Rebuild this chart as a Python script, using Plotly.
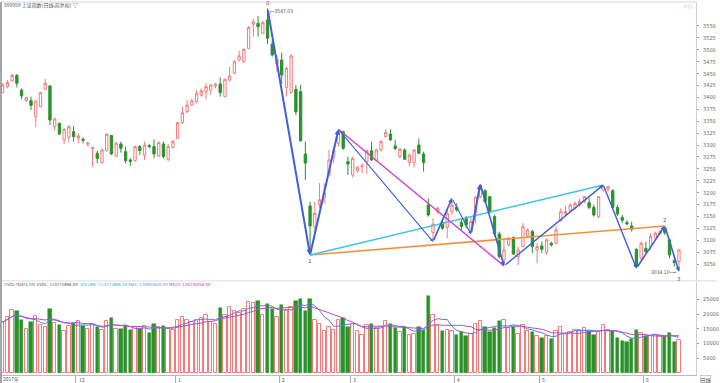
import plotly.graph_objects as go
import pandas as pd

# ---------------- data ----------------
month_idx = [0, 16, 37, 59, 74, 96, 114, 136]
month_lab = ["2017年", "12", "1", "2", "3", "4", "5", "6"]

opens = [3410, 3422.6, 3434.5, 3446.4, 3415.6, 3393, 3393, 3359.6, 3380.6, 3417,
         3424, 3338.6, 3345.6, 3310.6, 3316.2, 3328, 3314.8, 3312, 3301.5, 3292.4,
         3282.6, 3263, 3288.2, 3319.7, 3277, 3302.2, 3286, 3268.6, 3267.2, 3296.6,
         3279, 3298.7, 3296.6, 3277, 3302.2, 3270, 3295, 3314, 3347, 3370,
         3384, 3391, 3404.4, 3412, 3415.6, 3424, 3428.2, 3401.6, 3436.6, 3450.6,
         3478.6, 3475, 3503, 3554, 3555.6, 3534.6, 3562.6, 3512, 3470.2, 3478.6,
         3421, 3410, 3417, 3412, 3281, 3172, 3128.6, 3175, 3188.6, 3237,
         3275.6, 3303.6, 3328, 3265, 3237, 3246, 3254.6, 3265, 3288, 3267,
         3289.6, 3317.6, 3323, 3298, 3275.6, 3289.6, 3263, 3263, 3300, 3281,
         3174, 3116, 3160, 3137, 3127, 3160, 3169, 3137.6, 3146, 3118,
         3156.6, 3191.6, 3204, 3191.6, 3149.6, 3113, 3058.6, 3090, 3106, 3065.6,
         3086.6, 3109, 3118, 3079.6, 3088, 3074, 3093.6, 3093.6, 3141, 3155,
         3162, 3167, 3174, 3181, 3179, 3169, 3149.6, 3205.6, 3207, 3204,
         3169, 3148, 3137, 3130, 3081, 3062, 3083, 3086.6, 3104, 3113,
         3125, 3100.6, 3057, 3055]
highs = [3430, 3436.6, 3449, 3449, 3419, 3401.6, 3401.6, 3394.6, 3412, 3439.4,
         3426, 3358.2, 3347, 3335, 3342, 3340, 3324.6, 3316, 3307, 3296.6,
         3288, 3293, 3324.6, 3321, 3307, 3307, 3296.6, 3272, 3298.7, 3300,
         3307, 3302, 3312, 3307, 3307, 3302.2, 3310.6, 3349, 3380.6, 3394.6,
         3398, 3415.6, 3419, 3429.6, 3428, 3431, 3442, 3440, 3464.6, 3478.6,
         3498.2, 3503, 3550, 3566, 3571, 3561, 3587.03, 3520.6, 3489, 3494,
         3464.6, 3491.2, 3426, 3426, 3307, 3181, 3181, 3220, 3219.6, 3289.6,
         3293, 3333, 3330, 3275.6, 3275.6, 3256, 3261.6, 3291, 3307, 3293,
         3310.6, 3333, 3333, 3310.6, 3295, 3293, 3282.6, 3291, 3314, 3286,
         3188, 3146, 3170.6, 3146, 3167, 3188, 3177.6, 3144, 3151, 3149.6,
         3193, 3218, 3207, 3193, 3153, 3118, 3102, 3107.6, 3107.6, 3086.6,
         3135.6, 3125, 3121.6, 3093.6, 3097, 3104, 3097, 3128.6, 3167, 3172,
         3177.6, 3181, 3188, 3193, 3188, 3174, 3193, 3216, 3214, 3207,
         3174, 3153, 3142, 3139, 3083, 3097, 3097, 3114.6, 3118, 3121.6,
         3130, 3104, 3062, 3081]
lows = [3409, 3419, 3433, 3421, 3396, 3391, 3373.6, 3337.2, 3379.2, 3415.6,
        3342, 3330.2, 3321, 3302.2, 3305, 3307, 3303.6, 3303.6, 3296.6, 3254.6,
        3261.6, 3260.2, 3286, 3279, 3274.2, 3284, 3261.6, 3256, 3265, 3279,
        3268.6, 3293, 3272, 3274.2, 3272, 3265, 3292.4, 3312, 3344.2, 3366.6,
        3382, 3387.6, 3401.6, 3396, 3405, 3419, 3401.6, 3400, 3433, 3449,
        3475, 3473, 3501, 3527.6, 3527.6, 3533, 3512, 3485.6, 3454, 3428,
        3401.6, 3408.6, 3363, 3307, 3226.6, 3069, 3114.6, 3168, 3177.6, 3233.6,
        3261.6, 3296.6, 3289.6, 3237, 3232, 3242, 3240.6, 3239, 3267, 3265,
        3286, 3316, 3309, 3289.6, 3272, 3268.6, 3254.6, 3253, 3281, 3244,
        3149.6, 3097, 3155, 3121.6, 3104, 3153, 3160, 3121.6, 3125, 3113,
        3135.6, 3188, 3177.6, 3156.6, 3107.6, 3062, 3046, 3086.6, 3069, 3048,
        3085, 3104, 3072.6, 3051.6, 3072.6, 3069, 3086.6, 3092, 3139, 3151,
        3160, 3163.6, 3170.6, 3177.6, 3165, 3149.6, 3146, 3202, 3202, 3167,
        3151, 3135.6, 3132, 3118, 3041, 3058.6, 3072.6, 3079.6, 3102, 3111,
        3111, 3062, 3044.6, 3034.1]
closes = [3426, 3431, 3446.4, 3429.6, 3403, 3399, 3383.4, 3392.5, 3410, 3429.6,
          3352.6, 3354.7, 3323.2, 3333, 3338.6, 3317.6, 3319, 3310, 3303.6, 3294.5,
          3272, 3289.6, 3322.5, 3281.2, 3303.6, 3293, 3267.2, 3265.8, 3296.6, 3288.2,
          3299.4, 3297, 3281.2, 3305, 3275.6, 3296.6, 3307, 3347, 3368, 3384,
          3393, 3408.6, 3414, 3422.6, 3426, 3427.5, 3410, 3438, 3445, 3475,
          3487, 3501, 3547, 3559, 3548.6, 3557, 3524, 3489, 3480, 3447,
          3461, 3487, 3370, 3309, 3262, 3130, 3156.6, 3185, 3199, 3268.6,
          3288, 3328, 3293, 3260, 3272, 3253, 3256.7, 3288, 3268.6, 3289.6,
          3307, 3326.7, 3310.6, 3292.4, 3291, 3270, 3279, 3289.6, 3282.6, 3263,
          3153, 3134, 3167, 3125, 3156.6, 3174, 3163.6, 3128.6, 3132, 3139,
          3190, 3216, 3181, 3160, 3113, 3065.6, 3079.6, 3104, 3071, 3079.6,
          3128.6, 3121.6, 3086.6, 3086.6, 3081, 3100.6, 3090, 3121.6, 3160, 3160,
          3174, 3177.6, 3181, 3191.6, 3169, 3153, 3191.6, 3214, 3213, 3169,
          3155, 3142, 3134, 3123, 3044.6, 3093.6, 3076, 3107.6, 3114.6, 3118,
          3116, 3069, 3053, 3079.6]
# volume in units of 10,000
volumes = [17200, 18900, 21300, 20900, 18000, 14800, 17200, 19300, 16400, 15600,
           21700, 16800, 16400, 14400, 16000, 16800, 17500, 16000, 15000, 16500,
           15500, 14500, 17500, 18500, 15000, 14800, 15800, 14500, 15500, 14800,
           16000, 13500, 16500, 15500, 15800, 15000, 14500, 18000, 18900, 18000,
           17200, 18000, 18500, 19800, 17200, 16700, 22000, 19800, 22400, 21100,
           20200, 21600, 24200, 23800, 24500, 19800, 23300, 21600, 18900, 22900,
           21100, 22400, 24500, 25200, 21000, 25100, 18000, 16600, 14300, 15700,
           14700, 18000, 18500, 15700, 16600, 14300, 12800, 16200, 16600, 15200,
           15700, 17600, 16600, 15200, 13800, 15700, 12800, 13300, 15700, 14700,
           26000, 19500, 16200, 14300, 14700, 14300, 12800, 13800, 12400, 13300,
           16600, 17600, 15700, 13800, 15200, 17600, 18000, 15200, 15700, 13300,
           16200, 14300, 13800, 12400, 11900, 12400, 11400, 14300, 15700, 13300,
           13800, 14700, 14700, 15200, 14300, 12800, 13800, 16200, 14700, 14300,
           11900, 10900, 10500, 11400, 14500, 13500, 12500, 12500, 13000, 12500,
           12500, 13600, 10500, 11327]

zig_i = [56, 65, 71, 91, 95, 99, 101, 106, 127, 134, 140, 143]
zig_p = [3587.03, 3069, 3333, 3097, 3188, 3113, 3218, 3046, 3216, 3041, 3130, 3034.1]
zig_w = [2.0, 2.0, 1.1, 1.6, 1.1, 2.0, 1.6, 1.4, 1.4, 1.6, 1.6]

cyan_i, cyan_p = [65, 127], [3069, 3216]
orange_i, orange_p = [65, 140], [3069, 3130]
magenta_i, magenta_p = [71, 106], [3333, 3046]

price_ticks = list(range(3050, 3551, 25))
vol_ticks = [5000, 10000, 15000, 20000, 25000]

# ---------------- figure ----------------
RED = "#f27c7c"
GREEN = "#2b922b"
BLUE = "#3f5fd8"
idx = list(range(len(opens)))
VOL_TOP = 0.2493

fig = go.Figure()
fig.add_trace(go.Candlestick(
    x=idx, open=opens, high=highs, low=lows, close=closes,
    increasing=dict(line=dict(color=RED, width=1), fillcolor="white"),
    decreasing=dict(line=dict(color=GREEN, width=1), fillcolor=GREEN),
    whiskerwidth=0, xaxis="x", yaxis="y", showlegend=False))

fig.add_trace(go.Scatter(x=orange_i, y=orange_p, mode="lines",
                         line=dict(color="#f39040", width=1.6), xaxis="x", yaxis="y"))
fig.add_trace(go.Scatter(x=cyan_i, y=cyan_p, mode="lines",
                         line=dict(color="#3cc8e0", width=1.6), xaxis="x", yaxis="y"))
fig.add_trace(go.Scatter(x=magenta_i, y=magenta_p, mode="lines",
                         line=dict(color="#d040d0", width=1.4), xaxis="x", yaxis="y"))

# zigzag with arrows
for k in range(len(zig_i) - 1):
    fig.add_annotation(x=zig_i[k + 1], y=zig_p[k + 1], ax=zig_i[k], ay=zig_p[k],
                       xref="x", yref="y", axref="x", ayref="y",
                       showarrow=True, arrowhead=2, arrowsize=0.55,
                       arrowwidth=zig_w[k], arrowcolor=BLUE, text="")

# volume
up = [i for i in idx if closes[i] >= opens[i]]
dn = [i for i in idx if closes[i] < opens[i]]
fig.add_trace(go.Bar(x=up, y=[volumes[i] for i in up], width=0.72,
                     marker=dict(color="white", line=dict(color=RED, width=1)),
                     xaxis="x2", yaxis="y2", showlegend=False))
fig.add_trace(go.Bar(x=dn, y=[volumes[i] for i in dn], width=0.72,
                     marker=dict(color=GREEN, line=dict(color=GREEN, width=0.5)),
                     xaxis="x2", yaxis="y2", showlegend=False))
vs = pd.Series(volumes, dtype=float)
ma5 = vs.rolling(5, min_periods=1).mean()
ma10 = vs.rolling(10, min_periods=1).mean()
fig.add_trace(go.Scatter(x=idx, y=ma5, mode="lines", line=dict(color="#5a78e6", width=1),
                         xaxis="x2", yaxis="y2"))
fig.add_trace(go.Scatter(x=idx, y=ma10, mode="lines", line=dict(color="#c04ac0", width=1),
                         xaxis="x2", yaxis="y2"))

tickfont = dict(family="DejaVu Sans Condensed, DejaVu Sans", size=5.5, color="#666")
xr = [-0.35, 146.6]
fig.update_layout(
    width=720, height=383, margin=dict(l=1, r=21, t=2, b=8),
    paper_bgcolor="white", plot_bgcolor="white", showlegend=False, bargap=0,
    xaxis=dict(domain=[0, 1], anchor="y", range=xr, showticklabels=False, showgrid=False,
               zeroline=False, rangeslider=dict(visible=False), fixedrange=True),
    xaxis2=dict(domain=[0, 1], anchor="y2", range=xr, showgrid=False, zeroline=False,
                tickvals=[m - 0.5 for m in month_idx], ticks="outside", ticklen=7,
                tickcolor="#aaa", showticklabels=False, showline=True, linecolor="#bbb"),
    yaxis=dict(domain=[0.252, 1], range=[3014.3, 3600.4], side="right", tickvals=price_ticks,
               ticks="outside", ticklen=2, tickcolor="#8899cc", tickfont=tickfont,
               showgrid=False, zeroline=False, showline=True, linecolor="#c8cde0",
               ticklabelstandoff=3),
    yaxis2=dict(domain=[0, VOL_TOP], range=[-678, 30850], side="right", tickvals=vol_ticks,
                ticktext=[str(v) for v in vol_ticks],
                ticks="outside", ticklen=2, tickcolor="#8899cc", tickfont=tickfont,
                showgrid=False, zeroline=False, showline=True, linecolor="#c8cde0",
                ticklabelstandoff=3),
)

# month labels
for m, lab in zip(month_idx, month_lab):
    fig.add_annotation(x=m - 0.3, y=0, xref="x2", yref="paper", yshift=-4,
                       text=lab, showarrow=False, xanchor="left", yanchor="middle",
                       font=dict(family="Noto Sans CJK SC", size=5, color="#555"))

# titles
fig.add_annotation(x=0.002, y=1, xref="paper", yref="paper", yshift=-3,
                   text="999999 上证指数(日线,前复权) ▽", showarrow=False,
                   xanchor="left", yanchor="middle",
                   font=dict(family="Noto Sans CJK SC", size=5, color="#555"))
fig.add_annotation(x=0.002, y=VOL_TOP, xref="paper", yref="paper", yshift=-2,
                   text=("<span style='color:#555'>▽VOL-TDX(5,10) VVOL: 113275896.00</span>  "
                         "<span style='color:#3aaee0'>VOLUME: 113275896.00</span> "
                         "<span style='color:#5a8cf0'>MA5: 120901640.00</span> "
                         "<span style='color:#c040c0'>MA10: 126230056.00</span>"),
                   showarrow=False, xanchor="left", yanchor="middle",
                   font=dict(family="DejaVu Sans Condensed, DejaVu Sans", size=4.3, color="#555"))

# top-right small controls
fig.add_annotation(x=1.0, y=1, xref="paper", yref="paper", text="◁ ⓘ", showarrow=False,
                   xanchor="right", yanchor="middle", yshift=-4, xshift=-1,
                   font=dict(family="DejaVu Sans", size=5, color="#c9a0b0"))
fig.add_annotation(x=0.975, y=1, xref="paper", yref="paper", text="· · ·", showarrow=False,
                   xanchor="right", yanchor="middle", yshift=-10,
                   font=dict(family="DejaVu Sans", size=5, color="#f0a0b0"))

# wave labels and extremes
lab_font = dict(family="DejaVu Sans", size=5.5, color="#555")
small_font = dict(family="DejaVu Sans Condensed, DejaVu Sans", size=5, color="#555")
fig.add_annotation(x=zig_i[0], y=zig_p[0], text="0", showarrow=False, yshift=5,
                   font=lab_font)
fig.add_annotation(x=zig_i[0], y=zig_p[0], text="┌─3587.03", showarrow=False,
                   xanchor="left", yshift=-3, xshift=-1, font=small_font)
fig.add_annotation(x=zig_i[1], y=zig_p[1], text="1", showarrow=False, yshift=-6,
                   font=lab_font)
fig.add_annotation(x=zig_i[-2], y=zig_p[-2], text="2", showarrow=False, yshift=6,
                   font=lab_font)
fig.add_annotation(x=zig_i[-1], y=zig_p[-1], text="3", showarrow=False, yshift=-7,
                   font=lab_font)
fig.add_annotation(x=zig_i[-1], y=zig_p[-1], text="3034.10─→", showarrow=False,
                   xanchor="right", yshift=0, xshift=-1, font=small_font)

# frame lines
fig.add_shape(type="line", xref="paper", yref="paper", x0=0, x1=1, y0=1.0, y1=1.0,
              line=dict(color="#cfd3e6", width=1))
fig.add_shape(type="line", xref="paper", yref="paper", x0=0, x1=1.03, y0=VOL_TOP + 0.003,
              y1=VOL_TOP + 0.003, line=dict(color="#d8dbe8", width=1))
fig.add_shape(type="line", xref="paper", yref="paper", x0=0, x1=0, y0=-0.03, y1=1,
              line=dict(color="#888", width=1.5))
fig.add_annotation(x=1.0, y=0, xref="paper", yref="paper", text="日线", showarrow=False,
                   xanchor="left", yanchor="middle", xshift=4, yshift=-4,
                   font=dict(family="Noto Sans CJK SC", size=5, color="#444"),
                   bordercolor="#999", borderwidth=0.5, borderpad=0)

fig.write_html("out.html", post_script="document.body.style.margin='0';",
               config={"displayModeBar": False})
